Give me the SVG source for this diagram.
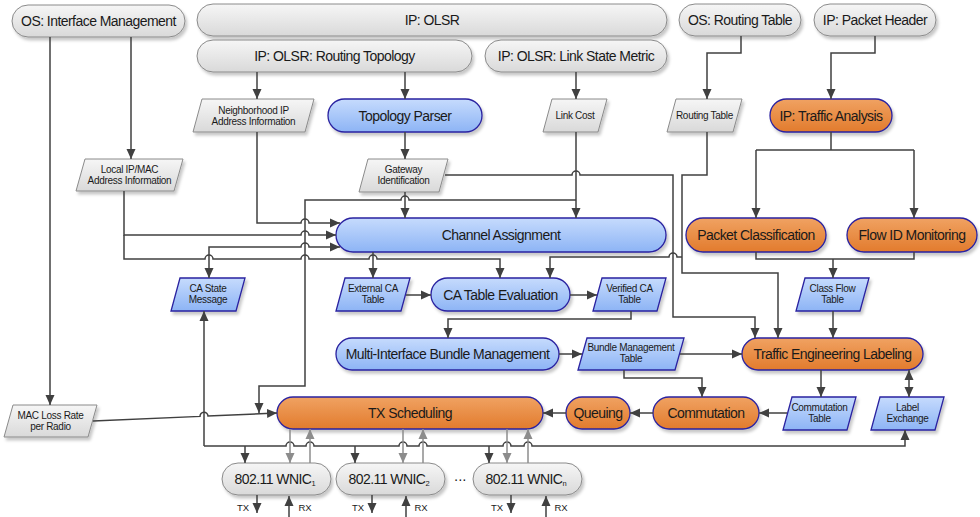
<svg xmlns="http://www.w3.org/2000/svg" width="980" height="517" viewBox="0 0 980 517">
<defs>
<linearGradient id="gGray" x1="0" y1="0" x2="0" y2="1"><stop offset="0" stop-color="#f6f6f6"/><stop offset="1" stop-color="#d9d9d9"/></linearGradient>
<linearGradient id="gBlue" x1="0" y1="0" x2="0" y2="1"><stop offset="0" stop-color="#c6dbfd"/><stop offset="1" stop-color="#8db4f5"/></linearGradient>
<linearGradient id="gOrange" x1="0" y1="0" x2="0" y2="1"><stop offset="0" stop-color="#f0a262"/><stop offset="1" stop-color="#e27b2d"/></linearGradient>
<filter id="sh" x="-10%" y="-20%" width="125%" height="160%"><feDropShadow dx="2" dy="3" stdDeviation="1.5" flood-color="#000" flood-opacity="0.22"/></filter>
<marker id="a" viewBox="0 0 10 10" refX="10" refY="5" markerWidth="10" markerHeight="10" markerUnits="userSpaceOnUse" orient="auto-start-reverse"><path d="M0,0.5 L10,5 L0,9.5 z" fill="#404040"/></marker>
<marker id="ag" viewBox="0 0 10 10" refX="10" refY="5" markerWidth="10" markerHeight="10" markerUnits="userSpaceOnUse" orient="auto-start-reverse"><path d="M0,0.5 L10,5 L0,9.5 z" fill="#8c8c8c"/></marker>
</defs>
<style>
.g{fill:url(#gGray);stroke:#8a8a8a;stroke-width:1;filter:url(#sh)}
.b{fill:url(#gBlue);stroke:#2a22a0;stroke-width:1.3;filter:url(#sh)}
.o{fill:url(#gOrange);stroke:#2a22a0;stroke-width:1.3;filter:url(#sh)}
text{font-family:"Liberation Sans",Arial,sans-serif;fill:#1a1a1a;text-anchor:middle}
.t{font-size:14px;letter-spacing:-0.55px}
.s{font-size:10px;letter-spacing:-0.3px}
.x{font-size:9.5px}
.sub{font-size:7.5px;letter-spacing:0}
.c{fill:none;stroke:#404040;stroke-width:1.5}
.ca{fill:none;stroke:#404040;stroke-width:1.5;marker-end:url(#a)}
.cb{fill:none;stroke:#404040;stroke-width:1.5;marker-start:url(#a);marker-end:url(#a)}
.cg{fill:none;stroke:#8c8c8c;stroke-width:1.5;marker-end:url(#ag)}
</style>
<rect width="980" height="517" fill="#ffffff"/>

<g id="os-interface-management"><rect class="g" x="12" y="5" width="173" height="32" rx="16"/><text class="t" x="98.5" y="26">OS: Interface Management</text></g>
<g id="ip-olsr"><rect class="g" x="197" y="4" width="470" height="32" rx="16"/><text class="t" x="432" y="25">IP: OLSR</text></g>
<g id="ip-olsr-routing-topology"><rect class="g" x="197" y="40" width="275" height="32" rx="16"/><text class="t" x="334.5" y="61">IP: OLSR: Routing Topology</text></g>
<g id="ip-olsr-link-state-metric"><rect class="g" x="485" y="40" width="182" height="32" rx="16"/><text class="t" x="576" y="61">IP: OLSR: Link State Metric</text></g>
<g id="os-routing-table"><rect class="g" x="679" y="4" width="122" height="32" rx="16"/><text class="t" x="740" y="25">OS: Routing Table</text></g>
<g id="ip-packet-header"><rect class="g" x="814" y="4" width="122" height="32" rx="16"/><text class="t" x="875" y="25">IP: Packet Header</text></g>

<g id="neighborhood-ip"><polygon class="g" points="202,99 314,99 305,132 193,132"/><text class="s" x="253.5" y="113.5">Neighborhood IP</text><text class="s" x="253.5" y="124.8">Address Information</text></g>
<g id="topology-parser"><rect class="b" x="328" y="99" width="154" height="33" rx="16.5"/><text class="t" x="405" y="120.5">Topology Parser</text></g>
<g id="link-cost"><polygon class="g" points="552,99 607,99 598,132 543,132"/><text class="s" x="575" y="119">Link Cost</text></g>
<g id="routing-table"><polygon class="g" points="676,99 742,99 733,132 667,132"/><text class="s" x="704.5" y="119">Routing Table</text></g>
<g id="ip-traffic-analysis"><rect class="o" x="770" y="99" width="122" height="33" rx="16.5"/><text class="t" x="831" y="120.5">IP: Traffic Analysis</text></g>

<g id="local-ip-mac"><polygon class="g" points="85,159 183,159 174,191 76,191"/><text class="s" x="129.5" y="172.8">Local IP/MAC</text><text class="s" x="129.5" y="184">Address Information</text></g>
<g id="gateway-identification"><polygon class="g" points="368,159 448,159 439,192 359,192"/><text class="s" x="403.5" y="173">Gateway</text><text class="s" x="403.5" y="184.3">Identification</text></g>

<g id="channel-assignment"><rect class="b" x="336" y="218" width="330" height="34" rx="17"/><text class="t" x="501" y="240">Channel Assignment</text></g>
<g id="packet-classification"><rect class="o" x="686" y="218" width="140" height="34" rx="17"/><text class="t" x="756" y="240">Packet Classification</text></g>
<g id="flow-id-monitoring"><rect class="o" x="847" y="218" width="130" height="34" rx="17"/><text class="t" x="912" y="240">Flow ID Monitoring</text></g>

<g id="ca-state-message"><polygon class="b" points="180,278 245,278 236,311 171,311"/><text class="s" x="208" y="292.3">CA State</text><text class="s" x="208" y="303.3">Message</text></g>
<g id="external-ca-table"><polygon class="b" points="345,278 410,278 401,311 336,311"/><text class="s" x="373" y="292.3">External CA</text><text class="s" x="373" y="303.3">Table</text></g>
<g id="ca-table-evaluation"><rect class="b" x="431" y="278" width="139" height="33" rx="16.5"/><text class="t" x="500.5" y="299.5">CA Table Evaluation</text></g>
<g id="verified-ca-table"><polygon class="b" points="602,278 666,278 657,311 593,311"/><text class="s" x="629.5" y="292.3">Verified CA</text><text class="s" x="629.5" y="303.3">Table</text></g>
<g id="class-flow-table"><polygon class="b" points="805,278 869,278 860,311 796,311"/><text class="s" x="832.5" y="292.3">Class Flow</text><text class="s" x="832.5" y="303.3">Table</text></g>

<g id="multi-interface-bundle-management"><rect class="b" x="336" y="338" width="223" height="32" rx="16"/><text class="t" x="447.5" y="359">Multi-Interface Bundle Management</text></g>
<g id="bundle-management-table"><polygon class="b" points="587,338 684,338 675,370 578,370"/><text class="s" x="631" y="350.8">Bundle Management</text><text class="s" x="631" y="362">Table</text></g>
<g id="traffic-engineering-labeling"><rect class="o" x="742" y="338" width="181" height="32" rx="16"/><text class="t" x="832.5" y="359">Traffic Engineering Labeling</text></g>

<g id="mac-loss-rate"><polygon class="g" points="13,405 97,405 88,437 4,437"/><text class="s" x="50.5" y="419">MAC Loss Rate</text><text class="s" x="50.5" y="430.3">per Radio</text></g>
<g id="tx-scheduling"><rect class="o" x="277" y="397" width="266" height="32" rx="16"/><text class="t" x="410" y="418">TX Scheduling</text></g>
<g id="queuing"><rect class="o" x="566" y="397" width="64" height="32" rx="16"/><text class="t" x="598" y="418">Queuing</text></g>
<g id="commutation"><rect class="o" x="653" y="397" width="106" height="32" rx="16"/><text class="t" x="706" y="418">Commutation</text></g>
<g id="commutation-table"><polygon class="b" points="792,397 856,397 847,430 783,430"/><text class="s" x="819.5" y="411">Commutation</text><text class="s" x="819.5" y="422.3">Table</text></g>
<g id="label-exchange"><polygon class="b" points="880,397 944,397 935,430 871,430"/><text class="s" x="907.5" y="411">Label</text><text class="s" x="907.5" y="422.3">Exchange</text></g>

<g id="wnic-1"><rect class="g" x="222" y="463" width="109" height="32" rx="16"/><text class="t" x="275" y="484">802.11 WNIC<tspan class="sub" dy="2">1</tspan></text></g>
<g id="wnic-2"><rect class="g" x="336" y="463" width="109" height="32" rx="16"/><text class="t" x="389" y="484">802.11 WNIC<tspan class="sub" dy="2">2</tspan></text></g>
<g id="ellipsis"><text class="t" x="460" y="484">···</text></g>
<g id="wnic-n"><rect class="g" x="473" y="463" width="109" height="32" rx="16"/><text class="t" x="526" y="484">802.11 WNIC<tspan class="sub" dy="2">n</tspan></text></g>

<g id="io-labels">
<text class="x" x="243" y="510.5">TX</text><text class="x" x="305" y="510.5">RX</text>
<text class="x" x="358" y="510.5">TX</text><text class="x" x="421" y="510.5">RX</text>
<text class="x" x="497" y="510.5">TX</text><text class="x" x="561" y="510.5">RX</text>
</g>

<g id="connectors">
<path class="ca" d="M50,37 V405"/>
<path class="ca" d="M131,37 V159"/>
<path class="ca" d="M257,72 V99"/>
<path class="ca" d="M405,72 V99"/>
<path class="ca" d="M405,132 V159"/>
<path class="ca" d="M576,72 V99"/>
<path class="ca" d="M741,36 V53 H707 V99"/>
<path class="ca" d="M875,36 V53 H831 V99"/>
<path class="c" d="M831,132 V150 M756,150 H914"/>
<path class="ca" d="M756,150 V218"/>
<path class="ca" d="M914,150 V218"/>
<path class="c" d="M756,252 V259 H914 V252"/>
<path class="ca" d="M833,259 V278"/>
<path class="ca" d="M833,311 V338"/>
<path class="ca" d="M707,132 V175 H682 V273 H778 V338"/>
<path class="ca" d="M682,257 H677 a4,4 0 0 0 -8,0 H550 V278"/>
<path class="ca" d="M576,132 V218"/>
<path class="ca" d="M405,192 V218"/>
<path class="ca" d="M445,175 H572 a4,4 0 0 1 8,0 H673 V317 H755 V338"/>
<path class="ca" d="M576,200 H409 a4,4 0 0 0 -8,0 H305 V386 H259 V413"/>
<path class="ca" d="M257,132 V223 H301 a4,4 0 0 1 8,0 H340"/>
<path class="ca" d="M124,191 V235 H301 a4,4 0 0 1 8,0 H336"/>
<path class="ca" d="M124,235 V259 H205 a4,4 0 0 1 8,0 H301 a4,4 0 0 1 8,0 H369 a4,4 0 0 1 8,0 H500 V278"/>
<path class="cb" d="M209,278 V247 H301 a4,4 0 0 1 8,0 H340"/>
<path class="ca" d="M373,252 V278"/>
<path class="ca" d="M406,295 H431"/>
<path class="ca" d="M570,295 H597"/>
<path class="ca" d="M631,311 V319 H448 V338"/>
<path class="ca" d="M559,354 H582"/>
<path class="ca" d="M680,354 H742"/>
<path class="ca" d="M624,370 V378 H702 V397"/>
<path class="ca" d="M821,370 V397"/>
<path class="cb" d="M909,370 V397"/>
<path class="ca" d="M787,413 H759"/>
<path class="ca" d="M653,413 H630"/>
<path class="ca" d="M566,413 H543"/>
<path class="ca" d="M93,421 L200,416.4 a4,4 0 0 1 8,-0.35 L277,413"/>
<path class="ca" d="M204,446 V311"/>
<path class="ca" d="M204,446 H286 a4,4 0 0 1 8,0 H306 a4,4 0 0 1 8,0 H399 a4,4 0 0 1 8,0 H419 a4,4 0 0 1 8,0 H503 a4,4 0 0 1 8,0 H524 a4,4 0 0 1 8,0 H905 V430"/>
<path class="ca" d="M245,446 V463"/>
<path class="ca" d="M355,446 V463"/>
<path class="ca" d="M489,446 V463"/>
<path class="cg" d="M290,429 V463"/>
<path class="cg" d="M310,463 V429"/>
<path class="cg" d="M403,429 V463"/>
<path class="cg" d="M423,463 V429"/>
<path class="cg" d="M507,429 V463"/>
<path class="cg" d="M528,463 V429"/>
<path class="ca" d="M257,495 V513"/>
<path class="ca" d="M289,517 V496"/>
<path class="ca" d="M372,495 V513"/>
<path class="ca" d="M406,517 V496"/>
<path class="ca" d="M511,495 V513"/>
<path class="ca" d="M546,517 V496"/>
</g>
</svg>
